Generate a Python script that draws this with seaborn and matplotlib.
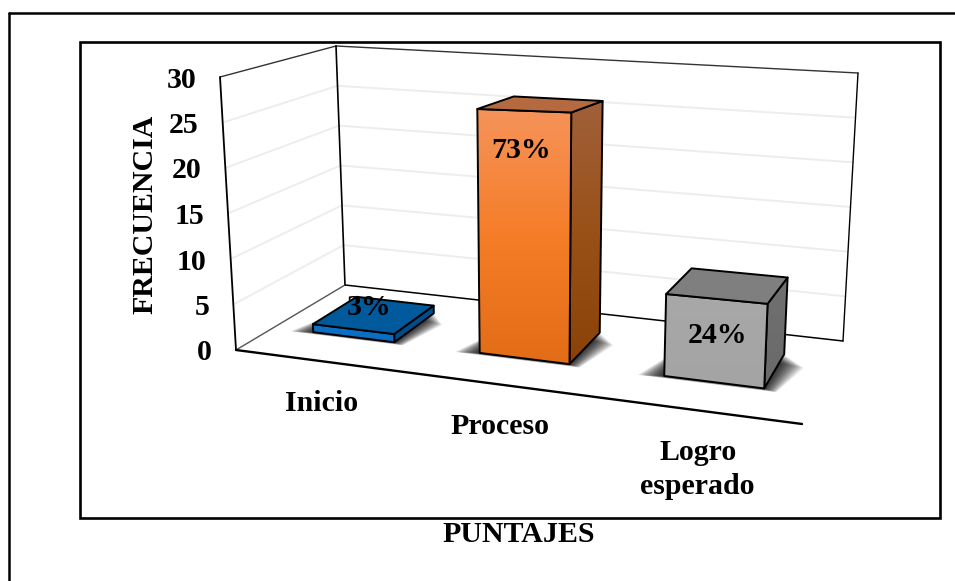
import numpy as np
import pandas as pd
import seaborn as sns
import matplotlib.pyplot as plt
from matplotlib.colors import LinearSegmentedColormap
from matplotlib.patches import Polygon

categorias = ["Inicio", "Proceso", "Logro\nesperado"]
frecuencia = [0.9, 26, 8.2]
porcentajes = ["3%", "73%", "24%"]
ticks = [0, 5, 10, 15, 20, 25, 30]

# gradient top -> bottom for the front and side, flat for the lid
front_colors = [["#0B74CC", "#0A6CBE"], ["#F6935A", "#F57D27", "#E36C16"], ["#A8A8A8", "#A4A4A4"]]
side_colors = [["#00508F", "#004C88"], ["#A0603A", "#9A5118", "#8A4208"], ["#707070", "#6A6A6A"]]
lid_colors = ["#005A9C", "#B56A40", "#7F7F7F"]
pct_offset = [(16, -22), (-3, 40), (1, 37)]

sns.set_style("white")
plt.rcParams["font.family"] = ["Liberation Serif", "DejaVu Serif"]
plt.rcParams["font.weight"] = "bold"
plt.rcParams["text.color"] = "black"

fig = plt.figure(figsize=(9.55, 5.81), dpi=100)

# bars come from seaborn on a hidden axes, their rectangles get projected below
df = pd.DataFrame({"categoria": categorias, "frecuencia": frecuencia})
hidden = fig.add_axes([0, 0, 1, 1])
sns.barplot(data=df, x="categoria", y="frecuencia", width=0.5, ax=hidden)
rects = [(r.get_x() + 0.5, r.get_width(), r.get_height()) for r in hidden.patches]
hidden.set_visible(False)

ax = fig.add_axes([0, 0, 1, 1])
ax.set_xlim(0, 955)
ax.set_ylim(581, 0)
ax.autoscale(False)
ax.axis("off")

# box corners on the page
FL, FR, BL, BR = map(np.array, [(236, 350), (802, 424), (345, 285), (843, 341)])
TFL, TFR, TBL, TBR = map(np.array, [(220, 77), (817, 84), (336, 46), (858, 73)])
YMAX = 30
K = 1.17
BAR_Z = (0.35, 0.77)


def proj(p, v, z):
    # p = category position 0..3, v = value, z = depth 0 (front) .. 1 (back)
    u = p / (p + K * (3 - p))
    low = (1 - z) * ((1 - u) * FL + u * FR) + z * ((1 - u) * BL + u * BR)
    top = (1 - z) * ((1 - u) * TFL + u * TFR) + z * ((1 - u) * TBL + u * TBR)
    return low + (top - low) * v / YMAX


def line(a, b, color="black", lw=1.2, zorder=2):
    ax.plot([a[0], b[0]], [a[1], b[1]], color=color, lw=lw, zorder=zorder, solid_capstyle="round")


def face(points, colors, zorder):
    points = np.array(points)
    xs, ys = points[:, 0], points[:, 1]
    cmap = LinearSegmentedColormap.from_list("f", colors)
    im = ax.imshow(np.linspace(0, 1, 128).reshape(-1, 1), cmap=cmap, aspect="auto", zorder=zorder,
                   extent=(xs.min(), xs.max(), ys.max(), ys.min()), origin="upper")
    im.set_clip_path(Polygon(points, transform=ax.transData))
    ax.add_patch(Polygon(points, closed=True, fill=False, ec="black", lw=1.4, zorder=zorder + 0.1,
                         joinstyle="round"))


# page frames
line((8.5, 12.5), (955, 12.5), lw=1.8)
line((8.5, 12.5), (8.5, 581), lw=1.8)
ax.add_patch(plt.Rectangle((80, 42), 860, 476, fill=False, ec="black", lw=1.9, zorder=1))

# gridlines on both walls
for t in ticks[1:-1]:
    line(proj(0, t, 0), proj(0, t, 1), color="#EDEDED", lw=1.4, zorder=1.5)
    line(proj(0, t, 1), proj(3, t, 1), color="#EDEDED", lw=1.4, zorder=1.5)

# walls and floor
line(TFL, TBL, color="#333333", lw=1.0)
line(TBL, TBR, color="#333333", lw=1.0)
line(TBR, BR, lw=1.0)
line(TBL, BL, lw=1.2)
line(TFL, FL, lw=1.3)
line(BL, FL, color="#555555", lw=1.0)
line(BL, BR, lw=1.1)
line(FL, FR, lw=1.7)

for i, (left, width, value) in enumerate(rects):
    right = left + width
    z0, z1 = BAR_Z
    # soft shadow on the floor
    for grow in np.linspace(0.13, 0.0, 26):
        shadow = [proj(left - grow, 0, z0 - grow * 0.2), proj(right + grow * 0.5, 0, z0 - grow * 0.2),
                  proj(right + grow, 0, z1 - grow), proj(left, 0, z1)]
        ax.add_patch(Polygon(shadow, closed=True, fc="black", ec="none", alpha=0.055, zorder=3 + i,
                             antialiased=True))
    z = 3.5 + i
    face([proj(right, value, z0), proj(right, value, z1), proj(right, 0, z1), proj(right, 0, z0)],
         side_colors[i], z)
    face([proj(left, value, z0), proj(right, value, z0), proj(right, 0, z0), proj(left, 0, z0)],
         front_colors[i], z + 0.2)
    face([proj(left, value, z0), proj(left, value, z1), proj(right, value, z1), proj(right, value, z0)],
         [lid_colors[i], lid_colors[i]], z + 0.4)
    mid = proj(left + width / 2, value, z0)
    ax.text(mid[0] + pct_offset[i][0], mid[1] + pct_offset[i][1], porcentajes[i], fontsize=21.5,
            ha="center", va="center", zorder=10)
    base = proj(left + width / 2, 0, 0)
    ax.text(base[0] + 3, base[1] + 29, categorias[i], fontsize=21.5, ha="center", va="top",
            linespacing=1.32, zorder=10)

for t in ticks:
    pos = proj(0, t, 0)
    ax.text(pos[0] - 24, pos[1] + 3, str(t), fontsize=21.5, ha="right", va="center", zorder=10)

ax.text(145, 214, "FRECUENCIA", fontsize=21.5, rotation=90, ha="center", va="center")
ax.text(519, 535, "PUNTAJES", fontsize=21.5, ha="center", va="center")

fig.savefig("out.png", dpi=100)
